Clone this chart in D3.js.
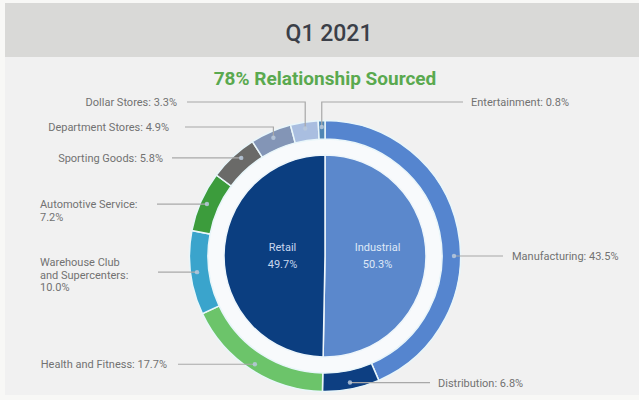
<!DOCTYPE html>
<html>
<head>
<meta charset="utf-8">
<script src="https://cdn.jsdelivr.net/npm/d3@7/dist/d3.min.js"></script>
<style>
  html, body { margin: 0; padding: 0; background: #f8f8f6; }
  svg { display: block; }
</style>
</head>
<body>
<svg id="chart" width="639" height="400"></svg>
<script>
// Sector split (inner pie)
const sectors = ["Industrial", "Retail"];
const sectorValues = [50.3, 49.7];

// Sub-sector split (outer ring), clockwise from 12 o'clock
const segments = [
  "Manufacturing", "Distribution", "Health and Fitness",
  "Warehouse Club and Supercenters", "Automotive Service",
  "Sporting Goods", "Department Stores", "Dollar Stores", "Entertainment"
];
const segmentValues = [43.5, 6.8, 17.7, 10.0, 7.2, 5.8, 4.9, 3.3, 0.8];

// Label text lines for each ring segment
const segmentLabelLines = [
  ["Manufacturing: 43.5%"],
  ["Distribution: 6.8%"],
  ["Health and Fitness: 17.7%"],
  ["Warehouse Club", "and Supercenters:", "10.0%"],
  ["Automotive Service:", "7.2%"],
  ["Sporting Goods: 5.8%"],
  ["Department Stores: 4.9%"],
  ["Dollar Stores: 3.3%"],
  ["Entertainment: 0.8%"]
];

const titleText = "Q1 2021";
const subtitleText = "78% Relationship Sourced";

// ---- styling / layout ----
const sectorColors = ["#5b88cc", "#0b3e80"];
const sectorTextColors = ["#dfe8f7", "#c9d7ee"];
const segmentColors = ["#5585cf", "#0d3f82", "#6cc46a", "#3aa4cc", "#3c9c3c",
                       "#6a6a68", "#8395b6", "#a9bee0", "#4f86b4"];

// label placement: end of the leader line, optional elbow row, text anchor x
// anchorDeg overrides the mid-angle anchor on the ring
const labelLayout = [
  { lineEnd: 503, textX: 512, anchorDeg: 90 },
  { lineEnd: 430, textX: 438 },
  { lineEnd: 178, textX: 167, align: "end" },
  { lineEnd: 158, textX: 40, align: "start", dy: -10 },
  { lineEnd: 157, textX: 40, align: "start", dy: 0 },
  { lineEnd: 172, textX: 163, align: "end", anchorDeg: 319.5 },
  { lineEnd: 185, textX: 169, align: "end", elbowY: 127 },
  { lineEnd: 187, textX: 177, align: "end", elbowY: 102 },
  { lineEnd: 463, textX: 471, align: "start", elbowY: 102 }
];

const W = 639, H = 400;
const cx = 325, cy = 256;
const pieR = 101, ringIn = 117, ringOut = 135.5, dotR = 129;

const svg = d3.select("#chart");

// frame
svg.append("rect").attr("x", 5).attr("y", 57).attr("width", W - 5).attr("height", 338)
  .attr("fill", "#f1f1f1");
svg.append("rect").attr("x", 5).attr("y", 3).attr("width", W - 5).attr("height", 54)
  .attr("fill", "#d9d9d7");

svg.append("text")
  .attr("x", 329).attr("y", 41)
  .attr("text-anchor", "middle")
  .attr("font-family", "Roboto, 'Open Sans', sans-serif")
  .attr("font-weight", 500)
  .attr("font-size", 23)
  .attr("fill", "#3b3f48")
  .text(titleText);

svg.append("text")
  .attr("x", 325).attr("y", 85)
  .attr("text-anchor", "middle")
  .attr("font-family", "Roboto, 'Open Sans', sans-serif")
  .attr("font-weight", 700)
  .attr("font-size", 19)
  .attr("fill", "#5aa94f")
  .text(subtitleText);

const g = svg.append("g").attr("transform", `translate(${cx},${cy})`);

// light gap between pie and ring
g.append("circle").attr("r", ringIn).attr("fill", "#f8fafc");

const pie = d3.pie().sort(null).value(d => d);

// inner pie
const sectorArcs = pie(sectorValues);
const pieArc = d3.arc().innerRadius(0).outerRadius(pieR);
g.selectAll("path.sector")
  .data(sectorArcs)
  .join("path")
  .attr("class", "sector")
  .attr("d", pieArc)
  .attr("fill", (d, i) => sectorColors[i])
  .attr("stroke", "#eef6fb")
  .attr("stroke-width", 1.5);

sectorArcs.forEach((d, i) => {
  const [x, y] = pieArc.centroid(d);
  const lx = x + (i === 0 ? 2 : 8);
  const t = g.append("text")
    .attr("text-anchor", "middle")
    .attr("font-family", "Roboto, 'Open Sans', sans-serif")
    .attr("font-size", 11)
    .attr("fill", sectorTextColors[i]);
  t.append("tspan").attr("x", lx).attr("y", y - 5).text(sectors[i]);
  t.append("tspan").attr("x", lx).attr("y", y + 12).text(d3.format(".1f")(d.value) + "%");
});

// outer ring
const segArcs = pie(segmentValues);
const ringArc = d3.arc().innerRadius(ringIn).outerRadius(ringOut);
g.selectAll("path.segment")
  .data(segArcs)
  .join("path")
  .attr("class", "segment")
  .attr("d", ringArc)
  .attr("fill", (d, i) => segmentColors[i])
  .attr("stroke", "#e9f6fa")
  .attr("stroke-width", 1.5);

// leader lines and labels
const lineColor = "#a8a8a8";
const labelFont = "Roboto, 'Open Sans', sans-serif";
segArcs.forEach((d, i) => {
  const lay = labelLayout[i];
  const ang = lay.anchorDeg !== undefined ? lay.anchorDeg * Math.PI / 180
                                          : (d.startAngle + d.endAngle) / 2;
  const px = cx + dotR * Math.sin(ang);
  const py = cy - dotR * Math.cos(ang);
  let pts;
  let ty;
  if (lay.elbowY !== undefined) {
    pts = [[px, py], [px, lay.elbowY], [lay.lineEnd, lay.elbowY]];
    ty = lay.elbowY;
  } else {
    pts = [[px, py], [lay.lineEnd, py]];
    ty = py;
  }
  svg.append("path")
    .attr("d", d3.line()(pts))
    .attr("fill", "none")
    .attr("stroke", lineColor)
    .attr("stroke-width", 1.2);
  svg.append("circle")
    .attr("cx", px).attr("cy", py).attr("r", 2.2)
    .attr("fill", "#b9c9dc").attr("opacity", 0.85);

  const lines = segmentLabelLines[i];
  const lh = 12.5;
  const y0 = ty + 4 + (lay.dy !== undefined ? lay.dy : 0);
  const t = svg.append("text")
    .attr("font-family", labelFont)
    .attr("font-size", 11)
    .attr("fill", "#727272")
    .attr("text-anchor", lay.align || "start");
  lines.forEach((ln, k) => {
    t.append("tspan").attr("x", lay.textX).attr("y", y0 + k * lh).text(ln);
  });
});
</script>
</body>
</html>
